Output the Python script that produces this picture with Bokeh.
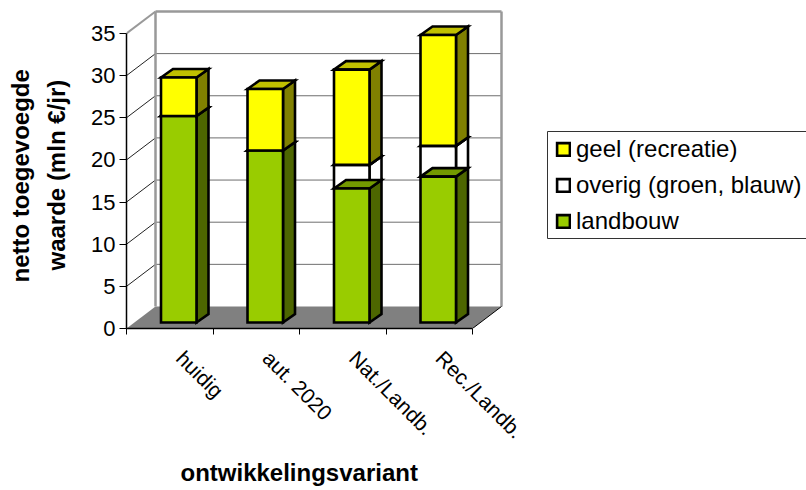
import math
from bokeh.embed import file_html
from bokeh.resources import INLINE
from bokeh.plotting import figure
from bokeh.models import (ColumnDataSource, FixedTicker, Legend, LegendItem, Range1d, Title)

categories = ["huidig", "aut. 2020", "Nat./Landb.", "Rec./Landb."]
landbouw = [24.5, 20.4, 15.9, 17.3]
overig = [0.0, 0.0, 2.8, 3.65]
geel = [4.56, 7.3, 11.3, 13.15]
y_ticks = [0, 5, 10, 15, 20, 25, 30, 35]
legend_names = ["geel (recreatie)", "overig (groen, blauw)", "landbouw"]

FONT = "Liberation Sans"
PX_X = 86.5    # pixels per category
PX_Y = 8.43    # pixels per value unit
LEFT, BASE = 126, 328

# Depth of the box and of the bars, expressed in data units.
WALL_DX, WALL_DY = 29 / PX_X, 22 / PX_Y
BAR_SHIFT_X, BAR_SHIFT_Y = 9 / PX_X, 6 / PX_Y
BAR_DX, BAR_DY = 12 / PX_X, 8.5 / PX_Y
BAR_W = 35.5 / PX_X
N = len(categories)
YMAX = y_ticks[-1]


def data_x(px):
    return (px - LEFT) / PX_X


def data_y(py):
    return (BASE - py) / PX_Y


p = figure(width=806, height=490, output_backend="svg", toolbar_location=None,
           x_range=Range1d(0, (806 - LEFT) / PX_X), y_range=Range1d(0, BASE / PX_Y),
           min_border_left=LEFT, min_border_right=0, min_border_top=0,
           min_border_bottom=490 - BASE, outline_line_color=None,
           background_fill_color="white", border_fill_color="white")
p.grid.visible = False

# Box: floor, back wall grid, side wall diagonals
p.patch([0, N, N + WALL_DX, WALL_DX], [0, 0, WALL_DY, WALL_DY],
        fill_color="#808080", line_color=None)
for t in y_ticks[1:-1]:
    p.line([WALL_DX, N + WALL_DX], [t + WALL_DY] * 2, line_color="#6e6e6e", line_width=1)
    p.line([0, WALL_DX], [t, t + WALL_DY], line_color="#222222", line_width=1)
p.line([WALL_DX, WALL_DX], [WALL_DY, YMAX + WALL_DY], line_color="#999999", line_width=2.5)
p.line([N + WALL_DX, N + WALL_DX], [WALL_DY, YMAX + WALL_DY], line_color="#999999", line_width=2.5)
p.line([WALL_DX, N + WALL_DX], [YMAX + WALL_DY] * 2, line_color="#999999", line_width=2.5)
p.line([0, WALL_DX], [YMAX, YMAX + WALL_DY], line_color="#999999", line_width=2)
p.line([N, N + WALL_DX], [0, WALL_DY], line_color="black", line_width=1)


def draw_segment(lows, highs, front, side, top):
    """One stacked series: side and top faces as patches, front as quads."""
    lefts = [i + 0.5 + BAR_SHIFT_X - BAR_W / 2 for i in range(N)]
    rights = [l + BAR_W for l in lefts]
    b = [v + BAR_SHIFT_Y for v in lows]
    t = [v + BAR_SHIFT_Y for v in highs]
    side_x = [[r, r + BAR_DX, r + BAR_DX, r] for r in rights]
    side_y = [[lo, lo + BAR_DY, hi + BAR_DY, hi] for lo, hi in zip(b, t)]
    top_x = [[l, l + BAR_DX, r + BAR_DX, r] for l, r in zip(lefts, rights)]
    top_y = [[hi, hi + BAR_DY, hi + BAR_DY, hi] for hi in t]
    style = dict(line_color="black", line_width=2.6, line_join="miter")
    p.patches(side_x, side_y, fill_color=side, **style)
    p.patches(top_x, top_y, fill_color=top, **style)
    src = ColumnDataSource(dict(left=lefts, right=rights, top=t, bottom=b))
    return p.quad(left="left", right="right", top="top", bottom="bottom", source=src,
                  fill_color=front, **style)


zeros = [0.0] * N
top_land = landbouw
top_over = [a + b for a, b in zip(landbouw, overig)]
top_geel = [a + b for a, b in zip(top_over, geel)]

r_over = draw_segment(top_land, top_over, "white", "white", "white")
r_land = draw_segment(zeros, top_land, "#99CC00", "#4D6600", "#739900")
r_geel = draw_segment(top_over, top_geel, "#FFFF00", "#808000", "#C0C000")

# Axes
yax = p.yaxis[0]
yax.ticker = FixedTicker(ticks=y_ticks)
yax.bounds = (0, YMAX)
yax.major_tick_in = 0
yax.major_tick_out = 7
yax.minor_tick_out = 0
yax.minor_tick_in = 0
yax.major_label_text_font = FONT
yax.major_label_text_font_size = "22px"
yax.major_label_text_color = "black"
yax.major_label_standoff = 4
yax.axis_line_color = "black"
yax.axis_line_width = 1.5
yax.major_tick_line_color = "black"

xax = p.xaxis[0]
xax.ticker = FixedTicker(ticks=[i + 0.62 for i in range(N)], minor_ticks=list(range(N + 1)))
xax.bounds = (0, N)
xax.major_label_overrides = {i + 0.62: c for i, c in enumerate(categories)}
xax.major_tick_in = 0
xax.major_tick_out = 0
xax.minor_tick_in = 0
xax.minor_tick_out = 6
xax.major_label_orientation = -math.pi / 4
xax.major_label_standoff = 20
xax.major_label_text_font = FONT
xax.major_label_text_font_size = "21px"
xax.major_label_text_color = "black"
xax.axis_line_color = "black"
xax.axis_line_width = 1.5
xax.minor_tick_line_color = "black"

# Axis titles live in the side panels; the blank title is a gap beside the tick labels.
title_style = dict(text_font=FONT, text_font_style="bold", text_font_size="24px",
                   text_color="black", align="left")
p.add_layout(Title(text="ontwikkelingsvariant", offset=54, standoff=6, **title_style), "below")
p.add_layout(Title(text=" ", standoff=0, text_font_size="8px"), "left")
p.add_layout(Title(text="waarde (mln €/jr)", offset=58, standoff=15, **title_style), "left")
p.add_layout(Title(text="netto toegevoegde", offset=46, standoff=0, **title_style), "left")

# Legend frame runs off the right edge of the page.
p.quad(left=[data_x(547)], right=[data_x(812)], top=[data_y(131)], bottom=[data_y(238)],
       fill_color="white", line_color="#333333", line_width=1)

legend = Legend(
    items=[LegendItem(label=n, renderers=[r]) for n, r in zip(legend_names, [r_geel, r_over, r_land])],
    location=(555 - LEFT, BASE - 235), orientation="vertical",
    glyph_width=16, glyph_height=16, label_standoff=5, spacing=8, padding=0,
    margin=0, label_text_font=FONT, label_text_font_size="24px", label_text_color="black",
    label_height=28, border_line_color=None,
    background_fill_alpha=0)
p.add_layout(legend)

open("out.html", "w").write(file_html(p, INLINE))
